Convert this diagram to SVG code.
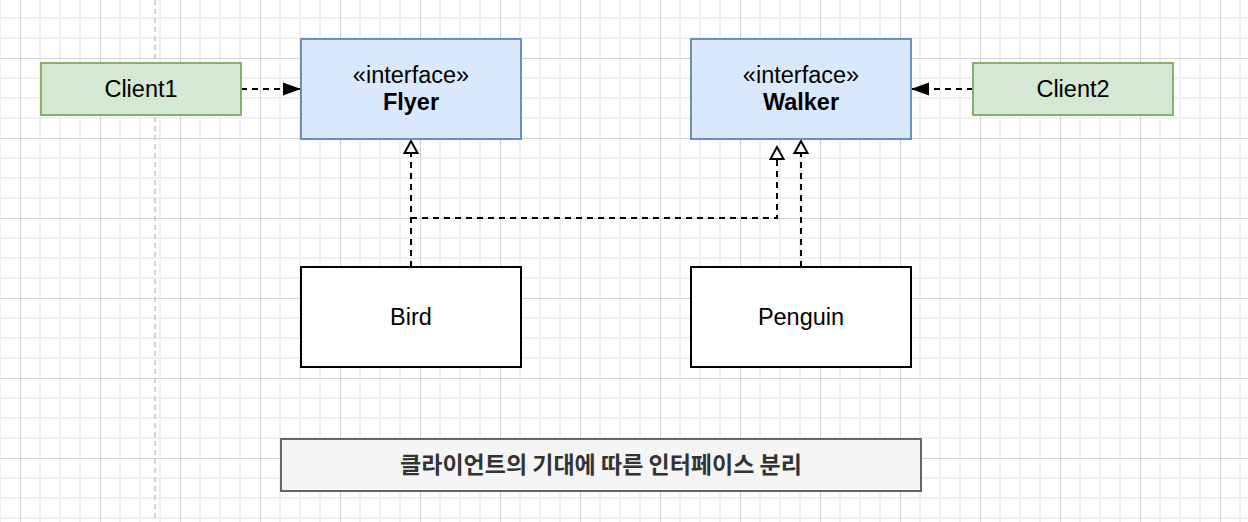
<svg xmlns="http://www.w3.org/2000/svg" width="1248" height="522" viewBox="0 0 1248 522">
  <defs>
    <pattern id="grid" patternUnits="userSpaceOnUse" x="20" y="58" width="80" height="80">
      <path d="M20,0 V80 M40,0 V80 M60,0 V80 M0,20 H80 M0,40 H80 M0,60 H80" stroke="#f0f0f0" stroke-width="2" fill="none"/>
      <path d="M0.5,0 V80 M0,0.5 H80" stroke="#d2d2d2" stroke-width="1.2" fill="none"/>
    </pattern>
    <marker id="block" viewBox="0 0 18 14" refX="18" refY="7" markerWidth="18" markerHeight="14" markerUnits="userSpaceOnUse" orient="auto" overflow="visible">
      <path d="M0,0.5 L18,7 L0,13.5 Z" fill="#000" stroke="none"/>
    </marker>
    <marker id="tri" viewBox="0 0 16 16" refX="15" refY="8" markerWidth="16" markerHeight="16" markerUnits="userSpaceOnUse" orient="auto" overflow="visible">
      <path d="M3,1.5 L15,8 L3,14.5 Z" fill="#fff" stroke="#000" stroke-width="2" stroke-linejoin="miter"/>
    </marker>
  </defs>
  <style>
    .lbl { font-family: "Liberation Sans", Arial, Helvetica, sans-serif; font-size: 23.5px; fill: #000; text-anchor: middle; }
    .bold { font-weight: bold; }
    .client { fill: #d5e8d4; stroke: #82b366; stroke-width: 2; }
    .iface { fill: #dae8fc; stroke: #6c8ebf; stroke-width: 2; }
    .cls { fill: #ffffff; stroke: #000000; stroke-width: 2; }
    .note { fill: #f5f5f5; stroke: #666666; stroke-width: 2; }
    .dep { fill: none; stroke: #000; stroke-width: 2; stroke-dasharray: 6 5; }
    .title { font-family: "Noto Sans CJK KR", "Noto Sans", sans-serif; font-size: 23px; font-weight: bold; fill: #333333; text-anchor: middle; }
  </style>

  <rect x="0" y="0" width="1248" height="522" fill="#ffffff"/>
  <rect x="0" y="0" width="1248" height="522" fill="url(#grid)"/>
  <line x1="155" y1="0" x2="155" y2="522" stroke="#c4c4c4" stroke-width="1.5" stroke-dasharray="5 4"/>

  <g id="connectors">
    <path class="dep" d="M241,89 H301" marker-end="url(#block)"/>
    <path class="dep" d="M973,89 H911" marker-end="url(#block)"/>
    <path class="dep" d="M411,267 V141" marker-end="url(#tri)"/>
    <path class="dep" d="M411,218 H777 V147" marker-end="url(#tri)"/>
    <path class="dep" d="M801,267 V141" marker-end="url(#tri)"/>
  </g>

  <g id="client1">
    <rect class="client" x="41" y="63" width="200" height="52"/>
    <text class="lbl" x="141" y="97">Client1</text>
  </g>
  <g id="flyer">
    <rect class="iface" x="301" y="39" width="220" height="100"/>
    <text class="lbl" x="411" y="83">«interface»</text>
    <text class="lbl bold" x="411" y="110">Flyer</text>
  </g>
  <g id="walker">
    <rect class="iface" x="691" y="39" width="220" height="100"/>
    <text class="lbl" x="801" y="83">«interface»</text>
    <text class="lbl bold" x="801" y="110">Walker</text>
  </g>
  <g id="client2">
    <rect class="client" x="973" y="63" width="200" height="52"/>
    <text class="lbl" x="1073" y="97">Client2</text>
  </g>
  <g id="bird">
    <rect class="cls" x="301" y="267" width="220" height="100"/>
    <text class="lbl" x="411" y="325">Bird</text>
  </g>
  <g id="penguin">
    <rect class="cls" x="691" y="267" width="220" height="100"/>
    <text class="lbl" x="801" y="325">Penguin</text>
  </g>
  <g id="caption">
    <rect class="note" x="281" y="439" width="640" height="52"/>
    <text class="title" x="601" y="473">클라이언트의 기대에 따른 인터페이스 분리</text>
  </g>
</svg>
